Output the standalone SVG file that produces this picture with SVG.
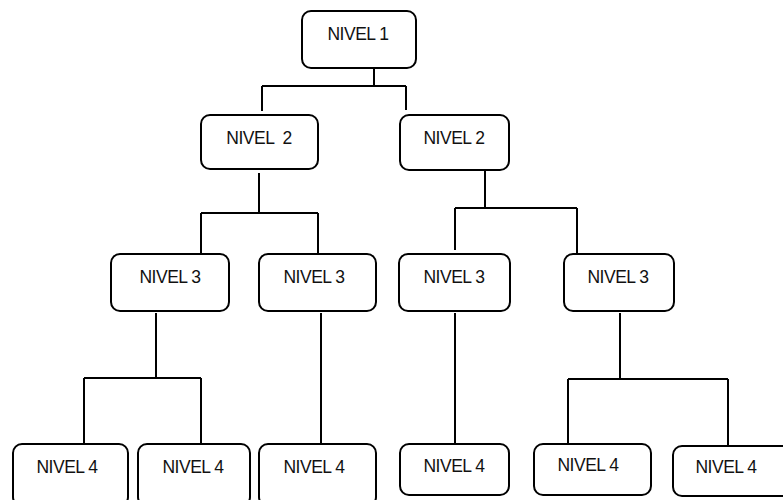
<svg xmlns="http://www.w3.org/2000/svg" width="783" height="500" viewBox="0 0 783 500">
<style>
.box{fill:#fff;stroke:#000;stroke-width:2}
.t{font-family:"Liberation Sans",Arial,sans-serif;font-size:17.5px;fill:#111;text-anchor:middle;letter-spacing:-0.5px}
.c{fill:none;stroke:#000;stroke-width:2}
</style>
<rect width="783" height="500" fill="#fff"/>
<g id="connectors" class="c">
<path d="M374 63V86M262 86H406M262 86V111M406 86V110"/>
<path d="M259 173V213M201 213H318M201 213V253M318 213V253"/>
<path d="M485 167V208M455 208H577M455 208V250M577 208V259"/>
<path d="M156 313V378M84 378H201M84 378V444M201 378V444"/>
<path d="M321 313V445"/>
<path d="M455 313V445"/>
<path d="M620 313V379M568 379H728M568 379V444M728 379V446"/>
</g>
<g id="n1"><rect class="box" x="302" y="11" width="114" height="57" rx="9"/><text class="t" x="358" y="40">NIVEL 1</text></g>
<g id="n2a"><rect class="box" x="201" y="115" width="117" height="54" rx="9"/><text class="t" x="259" y="144" xml:space="preserve">NIVEL  2</text></g>
<g id="n2b"><rect class="box" x="400" y="115" width="109" height="55" rx="9"/><text class="t" x="454" y="144">NIVEL 2</text></g>
<g id="n3a"><rect class="box" x="111" y="254" width="118" height="57" rx="9"/><text class="t" x="170" y="283">NIVEL 3</text></g>
<g id="n3b"><rect class="box" x="259" y="254" width="117" height="57" rx="9"/><text class="t" x="314" y="283">NIVEL 3</text></g>
<g id="n3c"><rect class="box" x="399" y="254" width="111" height="57" rx="9"/><text class="t" x="454" y="283">NIVEL 3</text></g>
<g id="n3d"><rect class="box" x="564" y="254" width="110" height="57" rx="9"/><text class="t" x="618" y="283">NIVEL 3</text></g>
<g id="n4a"><rect class="box" x="13" y="444" width="115" height="62" rx="9"/><text class="t" x="67" y="473">NIVEL 4</text></g>
<g id="n4b"><rect class="box" x="138" y="444" width="112" height="62" rx="9"/><text class="t" x="193" y="473">NIVEL 4</text></g>
<g id="n4c"><rect class="box" x="259" y="444" width="117" height="62" rx="9"/><text class="t" x="314" y="473">NIVEL 4</text></g>
<g id="n4d"><rect class="box" x="400" y="444" width="109" height="51" rx="9"/><text class="t" x="454" y="472">NIVEL 4</text></g>
<g id="n4e"><rect class="box" x="534" y="444" width="117" height="51" rx="9"/><text class="t" x="588" y="471">NIVEL 4</text></g>
<g id="n4f"><rect class="box" x="673" y="446" width="125" height="50" rx="9"/><text class="t" x="726" y="473">NIVEL 4</text></g>
</svg>
